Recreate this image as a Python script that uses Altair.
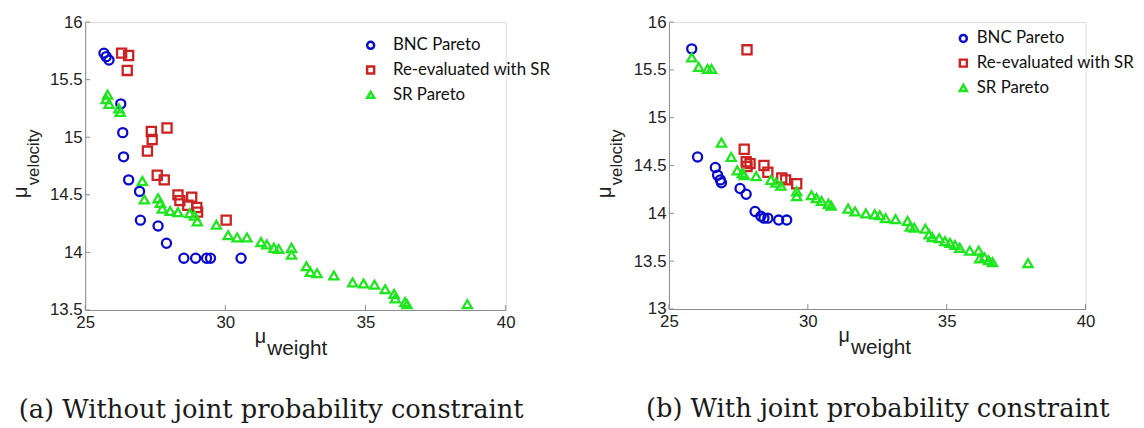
import altair as alt
import pandas as pd

SERIES = ["BNC Pareto", "Re-evaluated with SR", "SR Pareto"]
COLORS = ["#0a0acd", "#cc2222", "#1ee61e"]
SHAPES = ["circle", "square", "triangle-up"]

X_TICKS = [25, 30, 35, 40]
A_Y_TICKS = [13.5, 14, 14.5, 15, 15.5, 16]
B_Y_TICKS = [13, 13.5, 14, 14.5, 15, 15.5, 16]

# ---- panel (a): without joint probability constraint
a_bnc_x = [25.67, 25.75, 25.85, 26.27, 26.34, 26.37, 26.55, 26.94, 26.97, 27.6, 27.9, 28.52, 28.94, 29.33, 29.47, 30.56]
a_bnc_y = [15.73, 15.70, 15.67, 15.29, 15.04, 14.83, 14.63, 14.53, 14.28, 14.23, 14.08, 13.95, 13.95, 13.95, 13.95, 13.95]
a_re_x = [26.3, 26.55, 26.5, 27.92, 27.36, 27.39, 27.22, 27.57, 27.82, 28.31, 28.8, 28.38, 28.66, 28.98, 29.01, 30.03]
a_re_y = [15.73, 15.71, 15.58, 15.08, 15.05, 14.98, 14.88, 14.67, 14.63, 14.5, 14.48, 14.45, 14.41, 14.39, 14.35, 14.28]
a_sr_x = [25.8, 25.75, 25.85, 26.2, 26.25, 27.04, 27.11, 27.6, 27.68, 27.75, 28.03, 28.31, 28.73, 28.9, 29.0, 29.68,
          30.1, 30.42, 30.77, 31.27, 31.48, 31.73, 31.9, 32.36, 32.36, 32.89, 33.03, 33.27, 33.87, 34.54, 34.93,
          35.32, 35.7, 36.02, 36.06, 36.41, 36.48, 38.63]
a_sr_y = [15.37, 15.33, 15.29, 15.25, 15.22, 14.62, 14.46, 14.47, 14.43, 14.38, 14.36, 14.35, 14.34, 14.32, 14.27, 14.24,
          14.15, 14.13, 14.13, 14.09, 14.07, 14.04, 14.03, 14.04, 13.98, 13.88, 13.83, 13.82, 13.80, 13.74, 13.73,
          13.72, 13.68, 13.64, 13.60, 13.57, 13.55, 13.55]

# ---- panel (b): with joint probability constraint
b_bnc_x = [25.82, 26.03, 26.67, 26.75, 26.85, 26.89, 27.56, 27.78, 28.1, 28.31, 28.42, 28.56, 28.95, 29.24]
b_bnc_y = [15.72, 14.59, 14.48, 14.40, 14.35, 14.32, 14.26, 14.2, 14.02, 13.97, 13.95, 13.95, 13.93, 13.93]
b_re_x = [27.81, 27.71, 27.78, 27.92, 27.81, 28.42, 28.56, 29.06, 29.2, 29.6]
b_re_y = [15.71, 14.67, 14.54, 14.52, 14.49, 14.5, 14.43, 14.37, 14.35, 14.31]
b_sr_x = [25.82, 26.07, 26.39, 26.53, 26.89, 27.24, 27.46, 27.64, 27.71, 28.14, 28.67, 28.85, 29.03, 29.6, 29.6,
          30.13, 30.31, 30.49, 30.74, 30.84, 31.45, 31.7, 32.09, 32.41, 32.59, 32.8, 33.16, 33.59, 33.69, 33.83,
          34.23, 34.37, 34.48, 34.73, 34.94, 35.12, 35.3, 35.47, 35.83, 36.15, 36.19, 36.36, 36.51, 36.65, 37.93]
b_sr_y = [15.63, 15.53, 15.51, 15.51, 14.74, 14.59, 14.45, 14.42, 14.4, 14.39, 14.35, 14.32, 14.29, 14.23, 14.18,
          14.19, 14.16, 14.13, 14.1, 14.08, 14.05, 14.02, 14.0, 13.99, 13.98, 13.95, 13.94, 13.92, 13.86, 13.85,
          13.84, 13.78, 13.75, 13.74, 13.71, 13.69, 13.67, 13.64, 13.61, 13.61, 13.53, 13.54, 13.51, 13.49, 13.48]

CAPTION_A = "(a) Without joint probability constraint"
CAPTION_B = "(b) With joint probability constraint"

GRAY = "#8c8c8c"
AX_FONT = "Liberation Sans"


def build_df(bx, by, rx, ry, gx, gy):
    rows = []
    for s, xs, ys in zip(SERIES, [bx, rx, gx], [by, ry, gy]):
        for xv, yv in zip(xs, ys):
            rows.append({"w": xv, "v": yv, "s": s})
    df = pd.DataFrame(rows)
    df["k"] = range(len(df))
    return df


def text_layer(txt, x, y, size, font=AX_FONT, angle=0, align="center", color="#222222"):
    return alt.Chart(pd.DataFrame({"t": [txt]})).mark_text(
        font=font, fontSize=size, angle=angle, align=align, baseline="alphabetic", color=color
    ).encode(text="t:N", x=alt.value(x), y=alt.value(y))


def panel(df, ydom, yticks, w, h, caption, cap_x, leg_x, leg_y, lab_off):
    xs = alt.Scale(domain=[25, 40], nice=False, zero=False)
    ys = alt.Scale(domain=ydom, nice=False, zero=False)
    xaxis = alt.Axis(values=X_TICKS, ticks=False, labelPadding=5, labelFont=AX_FONT, labelFlush=False,
                     labelFontSize=17, labelColor="#222222", domainColor=GRAY, grid=False)
    yaxis = alt.Axis(values=yticks, ticks=False, labelPadding=3, format="~g", labelFont=AX_FONT,
                     labelFlush=False, labelFontSize=17, labelColor="#222222", domainColor=GRAY, grid=False)
    leg = alt.Legend(orient="none", legendX=leg_x, legendY=leg_y, title=None,
                     labelFont="Lato", labelFontSize=17, labelColor="#111111",
                     symbolSize=50, symbolStrokeWidth=2.5, rowPadding=6,
                     labelOffset=lab_off, padding=0)
    pts = alt.Chart(df).mark_point(filled=False, size=85, strokeWidth=2.3, opacity=1).encode(
        x=alt.X("w:Q", scale=xs, title=None, axis=xaxis),
        y=alt.Y("v:Q", scale=ys, title=None, axis=yaxis),
        color=alt.Color("s:N", scale=alt.Scale(domain=SERIES, range=COLORS), legend=leg),
        shape=alt.Shape("s:N", scale=alt.Scale(domain=SERIES, range=SHAPES), legend=leg),
        order=alt.Order("k:Q"),
    )
    xt = alt.Chart(pd.DataFrame({"w": X_TICKS})).mark_rule(color=GRAY, strokeWidth=1).encode(
        x=alt.X("w:Q", scale=xs, title=None, axis=xaxis), y=alt.value(h - 5), y2=alt.value(h))
    yt = alt.Chart(pd.DataFrame({"v": yticks})).mark_rule(color=GRAY, strokeWidth=1).encode(
        y=alt.Y("v:Q", scale=ys, title=None, axis=yaxis), x=alt.value(0), x2=alt.value(5))
    layers = [pts, xt, yt,
              text_layer("\u03bc", 177, h + 33, 20),
              text_layer("weight", 184, h + 45, 21, align="left"),
              text_layer("\u03bc", -59, 172, 20, angle=270),
              text_layer("velocity", -47, 165, 17, angle=270, align="left"),
              text_layer(caption, cap_x, h + 109, 26, font="DejaVu Serif", color="#1a1a1a")]
    return alt.layer(*layers).properties(width=w, height=h)


df_a = build_df(a_bnc_x, a_bnc_y, a_re_x, a_re_y, a_sr_x, a_sr_y)
df_b = build_df(b_bnc_x, b_bnc_y, b_re_x, b_re_y, b_sr_x, b_sr_y)

left = panel(df_a, [13.5, 16], A_Y_TICKS, 425, 291, CAPTION_A, 188, 280, 15, 14)
right = panel(df_b, [13, 16], B_Y_TICKS, 421, 290, CAPTION_B, 211, 289, 8, 5)

chart = alt.hconcat(left, right, spacing=42).resolve_scale(
    color="independent", shape="independent", x="independent", y="independent"
).properties(
    padding={"left": 2, "top": 2, "right": 0, "bottom": 0}
).configure_view(strokeWidth=0).configure(background="white")

chart.save("out.html", embed_options={"renderer": "svg", "actions": False})
